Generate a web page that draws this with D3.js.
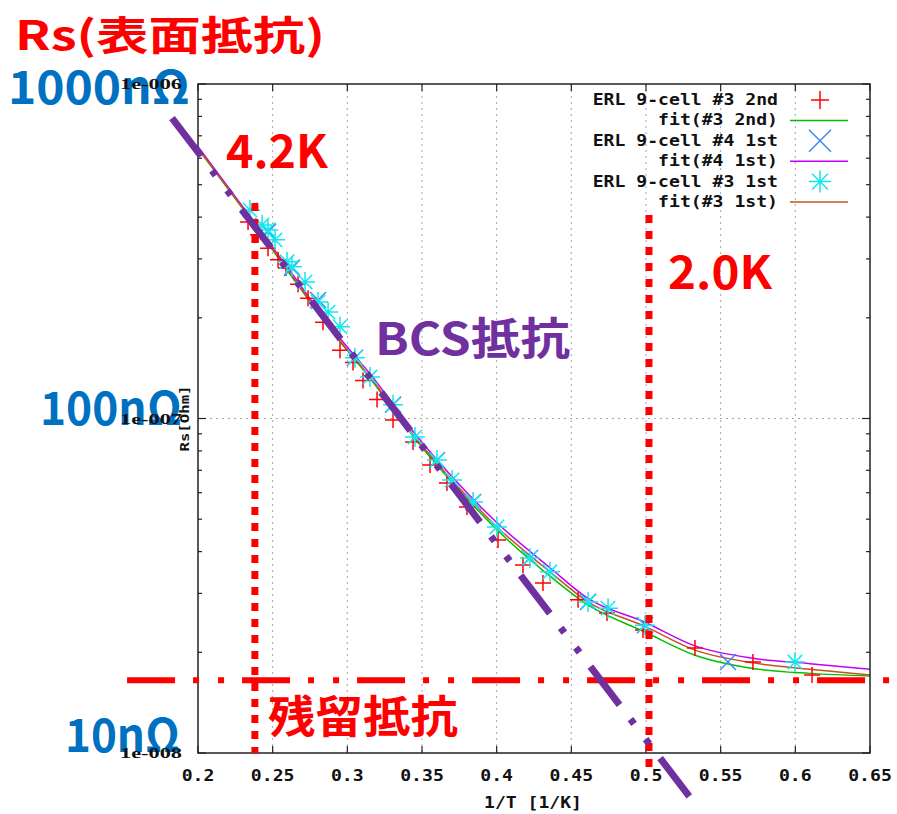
<!DOCTYPE html>
<html><head><meta charset="utf-8">
<script src="https://cdn.jsdelivr.net/npm/d3@7/dist/d3.min.js"></script>
<style>html,body{margin:0;padding:0;background:#fff}</style>
</head><body>
<svg id="c" width="897" height="814"></svg>
<script>
// ---- data ----
const xTicks = [0.2,0.25,0.3,0.35,0.4,0.45,0.5,0.55,0.6,0.65];
const xTickLabels = ["0.2","0.25","0.3","0.35","0.4","0.45","0.5","0.55","0.6","0.65"];
const yTicks = [1e-6,1e-7,1e-8];
const yTickLabels = ["1e-006","1e-007","1e-008"];
const legendLabels = ["ERL 9-cell #3 2nd","fit(#3 2nd)","ERL 9-cell #4 1st","fit(#4 1st)","ERL 9-cell #3 1st","fit(#3 1st)"];

const pts32 = [[0.2335,3.87e-7],[0.2402,3.54e-7],[0.2469,3.23e-7],[0.2536,2.98e-7],[0.2589,2.82e-7],[0.2670,2.52e-7],[0.2737,2.29e-7],[0.2837,1.94e-7],[0.2951,1.60e-7],[0.3038,1.47e-7],[0.3105,1.30e-7],[0.3199,1.14e-7],[0.3306,9.9e-8],[0.3440,8.5e-8],[0.3554,7.26e-8],[0.3667,6.42e-8],[0.3801,5.44e-8],[0.4009,4.33e-8],[0.4176,3.65e-8],[0.4310,3.22e-8],[0.4545,2.87e-8],[0.4739,2.62e-8],[0.4980,2.33e-8],[0.5328,2.06e-8],[0.5716,1.87e-8],[0.6112,1.71e-8]];
const pts41 = [[0.2469,3.62e-7],[0.2629,2.82e-7],[0.2804,2.26e-7],[0.3051,1.52e-7],[0.3306,1.10e-7],[0.3600,7.5e-8],[0.3842,5.63e-8],[0.4223,3.83e-8],[0.4612,2.83e-8],[0.4993,2.41e-8],[0.5549,1.87e-8]];
const pts31 = [[0.2348,4.20e-7],[0.2429,3.79e-7],[0.2469,3.66e-7],[0.2516,3.42e-7],[0.2596,2.94e-7],[0.2629,2.84e-7],[0.2717,2.56e-7],[0.2804,2.23e-7],[0.2871,2.08e-7],[0.2951,1.88e-7],[0.3051,1.52e-7],[0.3152,1.33e-7],[0.3306,1.10e-7],[0.3453,8.81e-8],[0.3600,7.51e-8],[0.3701,6.55e-8],[0.3842,5.63e-8],[0.4002,4.74e-8],[0.4223,3.83e-8],[0.4357,3.48e-8],[0.4612,2.83e-8],[0.4746,2.71e-8],[0.4993,2.41e-8],[0.5998,1.87e-8]];

const fit32 = [[0.200,6.40e-7],[0.2348,3.96e-7],[0.2616,2.70e-7],[0.2931,1.74e-7],[0.3152,1.32e-7],[0.3453,8.70e-8],[0.3701,6.45e-8],[0.4002,4.65e-8],[0.4357,3.38e-8],[0.4611,2.77e-8],[0.4993,2.30e-8],[0.5328,1.96e-8],[0.5716,1.79e-8],[0.6098,1.73e-8],[0.65,1.70e-8]];
const fit41 = [[0.200,6.50e-7],[0.2348,4.02e-7],[0.2616,2.76e-7],[0.2931,1.78e-7],[0.3152,1.36e-7],[0.3453,9.0e-8],[0.3701,6.70e-8],[0.4002,4.88e-8],[0.4357,3.58e-8],[0.4611,2.90e-8],[0.4993,2.46e-8],[0.5328,2.09e-8],[0.5716,1.92e-8],[0.6098,1.85e-8],[0.65,1.78e-8]];
const fit31 = [[0.200,6.44e-7],[0.2348,3.98e-7],[0.2616,2.72e-7],[0.2931,1.75e-7],[0.3152,1.33e-7],[0.3453,8.81e-8],[0.3701,6.55e-8],[0.4002,4.74e-8],[0.4357,3.48e-8],[0.4611,2.83e-8],[0.4993,2.39e-8],[0.5328,2.03e-8],[0.5716,1.86e-8],[0.6098,1.78e-8],[0.65,1.71e-8]];

// annotations (data units)
const bcsLine = [[0.1826,7.91e-7],[0.5308,7.24e-9]];
const residualLevel = 1.65e-8;
const residualX = [0.1525,0.6681];
const line42 = {x:1/4.2, y0:4.41e-7, y1:1e-8};
const line20 = {x:0.502, y0:4.06e-7, y1:8.6e-9};

// ---- drawing ----
const svg = d3.select("#c");
svg.append("rect").attr("width",897).attr("height",814).attr("fill","#fff");
const L=198,R=870,T=84,B=753;
const x = d3.scaleLinear().domain([0.2,0.65]).range([L,R]);
const y = d3.scaleLog().domain([1e-8,1e-6]).range([B,T]);
const mono = "'DejaVu Sans Mono', monospace";
const cjk = "'Noto Sans CJK JP', 'Noto Sans', sans-serif";

// grid
const grid = svg.append("g").attr("stroke","#a8a8a8").attr("stroke-width",1).attr("stroke-dasharray","2,4");
xTicks.slice(1,-1).forEach(v=>grid.append("line").attr("x1",x(v)).attr("x2",x(v)).attr("y1",T).attr("y2",B));
grid.append("line").attr("x1",L).attr("x2",R).attr("y1",y(1e-7)).attr("y2",y(1e-7));

// fits
const line = d3.line().x(d=>x(d[0])).y(d=>y(d[1])).curve(d3.curveMonotoneX);
const fits = [[fit32,"#00c000"],[fit41,"#c000ff"],[fit31,"#c8501e"]];
fits.forEach(([d,c])=>svg.append("path").attr("d",line(d)).attr("fill","none").attr("stroke",c).attr("stroke-width",1.5));

// markers
function plus(g,cx,cy,r,c){g.append("path").attr("d",`M${cx-r},${cy}H${cx+r}M${cx},${cy-r}V${cy+r}`).attr("stroke",c).attr("stroke-width",1.5).attr("fill","none");}
function cross(g,cx,cy,r,c){g.append("path").attr("d",`M${cx-r},${cy-r}L${cx+r},${cy+r}M${cx-r},${cy+r}L${cx+r},${cy-r}`).attr("stroke",c).attr("stroke-width",1.5).attr("fill","none");}
function star(g,cx,cy,r,c){plus(g,cx,cy,r,c);const q=r*0.72;cross(g,cx,cy,q,c);g.append("circle").attr("cx",cx).attr("cy",cy).attr("r",1.8).attr("fill",c);}
const mg = svg.append("g");
pts32.forEach(d=>plus(mg,x(d[0]),y(d[1]),8,"#ff0000"));
pts41.forEach(d=>cross(mg,x(d[0]),y(d[1]),8,"#3c8cf0"));
pts31.forEach(d=>star(mg,x(d[0]),y(d[1]),10,"#10e8f0"));

// frame
svg.append("rect").attr("x",L).attr("y",T).attr("width",R-L).attr("height",B-T).attr("fill","none").attr("stroke","#222").attr("stroke-width",1.5);
// ticks
const tk = svg.append("g").attr("stroke","#222").attr("stroke-width",1.2);
xTicks.forEach(v=>{tk.append("line").attr("x1",x(v)).attr("x2",x(v)).attr("y1",B).attr("y2",B-7);tk.append("line").attr("x1",x(v)).attr("x2",x(v)).attr("y1",T).attr("y2",T+7);});
[1e-8,1e-7].forEach(dec=>{for(let k=2;k<=9;k++){const yy=y(dec*k);tk.append("line").attr("x1",L).attr("x2",L+4).attr("y1",yy).attr("y2",yy);tk.append("line").attr("x1",R).attr("x2",R-4).attr("y1",yy).attr("y2",yy);}});
yTicks.forEach(v=>{tk.append("line").attr("x1",L).attr("x2",L+8).attr("y1",y(v)).attr("y2",y(v));tk.append("line").attr("x1",R).attr("x2",R-8).attr("y1",y(v)).attr("y2",y(v));});

// x tick labels and axis titles
xTicks.forEach((v,i)=>{const s=xTickLabels[i];svg.append("text").attr("x",x(v)).attr("y",781).attr("text-anchor","middle").attr("font-family",mono).attr("font-weight","bold").attr("font-size",15).attr("textLength",s.length*10.9).attr("lengthAdjust","spacingAndGlyphs").attr("fill","#111").text(s);});
svg.append("text").attr("x",533).attr("y",808).attr("text-anchor","middle").attr("font-family",mono).attr("font-weight","bold").attr("font-size",15).attr("textLength",98).attr("lengthAdjust","spacingAndGlyphs").attr("fill","#111").text("1/T [1/K]");

// legend
const lg = svg.append("g");
const legColors=["#ff0000","#00c000","#3c8cf0","#c000ff","#10e8f0","#c8501e"];
legendLabels.forEach((s,i)=>{const yy=100+i*20.4;
  lg.append("text").attr("x",778).attr("y",yy+5).attr("text-anchor","end").attr("font-family",mono).attr("font-weight","bold").attr("font-size",15).attr("textLength",s.length*10.9).attr("lengthAdjust","spacingAndGlyphs").attr("fill","#111").text(s);
  if(i===0) plus(lg,820,yy,9,legColors[i]);
  else if(i===2) cross(lg,820,yy,11,legColors[i]);
  else if(i===4) star(lg,820,yy,11,legColors[i]);
  else lg.append("line").attr("x1",790).attr("x2",848).attr("y1",yy).attr("y2",yy).attr("stroke",legColors[i]).attr("stroke-width",1.5);
});

// annotations
const an = svg.append("g");
an.append("line").attr("x1",x(line42.x)).attr("x2",x(line42.x)).attr("y1",y(line42.y0)).attr("y2",y(line42.y1)).attr("stroke","#ff0000").attr("stroke-width",7).attr("stroke-dasharray","8 8");
an.append("line").attr("x1",x(line20.x)).attr("x2",x(line20.x)).attr("y1",y(line20.y0)).attr("y2",y(line20.y1)).attr("stroke","#ff0000").attr("stroke-width",7).attr("stroke-dasharray","8 8");
an.append("line").attr("x1",x(residualX[0])).attr("x2",x(residualX[1])).attr("y1",y(residualLevel)).attr("y2",y(residualLevel)).attr("stroke","#ff0000").attr("stroke-width",6).attr("stroke-dasharray","48 18 6 19 6 18");
an.append("line").attr("x1",x(bcsLine[0][0])).attr("x2",x(bcsLine[1][0])).attr("y1",y(bcsLine[0][1])).attr("y2",y(bcsLine[1][1])).attr("stroke","#7030a0").attr("stroke-width",7).attr("stroke-dasharray","48 18 6 19 6 18");

function label(s,x0,yb,size,color,w){const t=an.append("text").attr("x",x0).attr("y",yb).attr("font-family",cjk).attr("font-weight","bold").attr("font-size",size).attr("fill",color).text(s);if(w)t.attr("textLength",w).attr("lengthAdjust","spacingAndGlyphs");}
label("Rs(表面抵抗)",15,50,40,"#ff0000",310);
label("1000nΩ",8,104,46,"#0070c0",182);
label("100nΩ",40,425,46,"#0070c0",142);
label("10nΩ",65,752,46,"#0070c0",115);
label("4.2K",226,168,46,"#ff0000",102);
label("2.0K",668,289,46,"#ff0000",104);
label("BCS抵抗",375,355,44,"#7030a0",195);
label("残留抵抗",268,733,44,"#ff0000",190);

// y tick labels and y title drawn on top (as in the reference)
yTicks.forEach((v,i)=>{svg.append("text").attr("x",182).attr("y",y(v)+5).attr("text-anchor","end").attr("font-family","'Liberation Serif', serif").attr("font-weight","bold").attr("font-size",14).attr("textLength",62).attr("lengthAdjust","spacingAndGlyphs").attr("fill","#111").text(yTickLabels[i]);});
svg.append("text").attr("transform",`translate(189,${y(1e-7)}) rotate(-90)`).attr("text-anchor","middle").attr("font-family",mono).attr("font-weight","bold").attr("font-size",12).attr("textLength",66).attr("lengthAdjust","spacingAndGlyphs").attr("fill","#111").text("Rs[Ohm]");
</script>
</body></html>
